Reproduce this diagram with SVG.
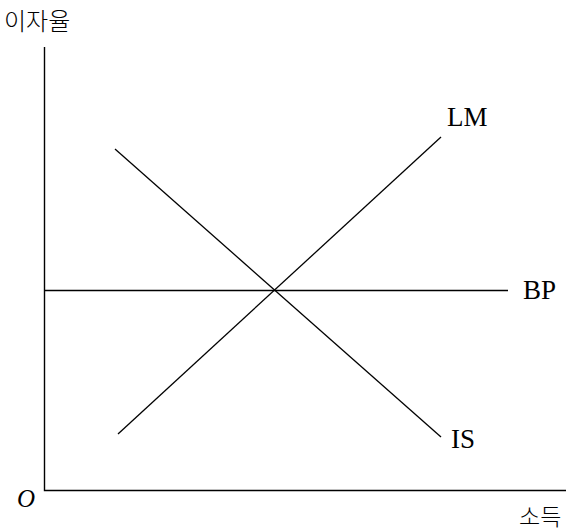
<svg xmlns="http://www.w3.org/2000/svg" width="572" height="532" viewBox="0 0 572 532">
<style>
.ax{stroke:#000;stroke-width:1.4;fill:none}
.ln{stroke:#000;stroke-width:1.3;fill:none}
.lb{font-family:"Liberation Serif","Times New Roman",serif;font-size:27px;fill:#000}
.kr{font-family:"Noto Sans CJK KR","Noto Sans CJK SC",sans-serif;font-size:24px;fill:#000;font-weight:300}
</style>
<rect width="572" height="532" fill="#fff"/>
<g id="axes">
<path class="ax" d="M44.5,47 V490.5 H566"/>
<text class="kr" x="4" y="30">이자율</text>
<text class="kr" x="519" y="525" style="font-size:23px">소득</text>
<text class="lb" x="17" y="507" style="font-style:italic;font-size:25px">O</text>
</g>
<g id="connectors">
<line id="LM-line" class="ln" x1="118" y1="434" x2="441" y2="137"/>
<line id="IS-line" class="ln" x1="115" y1="149" x2="441" y2="437"/>
<line id="BP-line" class="ln" x1="44" y1="290.5" x2="508" y2="290.5"/>
</g>
<g id="LM"><text class="lb" x="447" y="126">LM</text></g>
<g id="BP"><text class="lb" x="523" y="299">BP</text></g>
<g id="IS"><text class="lb" x="451" y="448">IS</text></g>
</svg>
